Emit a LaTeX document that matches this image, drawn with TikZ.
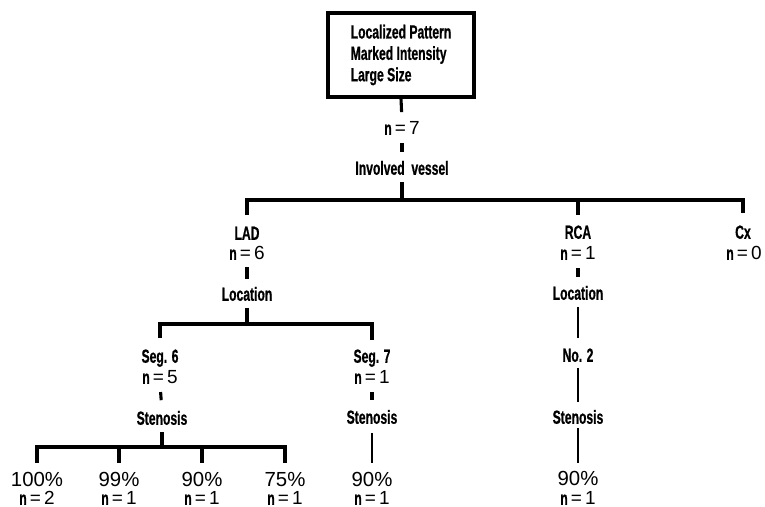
\documentclass[tikz,border=0pt]{standalone}
\usepackage{fontspec}
\setmainfont{Liberation Sans}[FakeStretch=0.64, BoldFeatures={FakeBold=0.7}]
\newfontfamily\numfont{Liberation Sans}
\newcommand{\nval}[1]{{\bfseries n}\,{\numfont\mdseries =\,#1}}

\begin{document}
\begin{tikzpicture}[x=0.025cm,y=-0.025cm]
	\tikzstyle{every node} = [inner sep=0pt, text height=9.6pt, text depth=0pt, font=\fontsize{13.5}{15}\selectfont\bfseries]
	\tikzstyle{pct} = [font=\fontsize{14.5}{16}\selectfont\numfont, text height=10.2pt]
	\tikzstyle{topbox} = [draw, line width=2.2pt, minimum width=3.65cm, minimum height=2.1cm, align=left, text height=, text depth=, font=\fontsize{13.5}{15.2}\selectfont\bfseries]
	\tikzstyle{link} = [line width=2.2pt]
	\tikzstyle{thin} = [line width=1.6pt]
	\useasboundingbox (0,0) rectangle (765,507);
	% top of the tree
	\node[topbox] (box) at (401,55) {Localized Pattern\\Marked Intensity\\Large Size};
	\node (n7) at (402,128) {\nval{7}};
	\node (inv) at (402,168) {Involved\ \ vessel};
	\coordinate (j1) at (402,200);
	% vessels
	\node (lad) at (247,233) {LAD};
	\node (ladn) at (247,253) {\nval{6}};
	\node (ladloc) at (247,294) {Location};
	\node (rca) at (578,232) {RCA};
	\node (rcan) at (578,253) {\nval{1}};
	\node (rcaloc) at (578,293) {Location};
	\node (cx) at (743,232) {Cx};
	\node (cxn) at (744,253) {\nval{0}};
	\coordinate (j2) at (247,324);
	% LAD segments
	\node (seg6) at (160,356) {Seg. 6};
	\node (seg6n) at (160,377) {\nval{5}};
	\node (sten6) at (162,418) {Stenosis};
	\node (seg7) at (372,356) {Seg. 7};
	\node (seg7n) at (372,377) {\nval{1}};
	\node (sten7) at (372,417) {Stenosis};
	\coordinate (j3) at (162,447);
	\node[pct] (p100) at (37,479) {100\%};
	\node (p100n) at (37,498) {\nval{2}};
	\node[pct] (p99) at (119,479) {99\%};
	\node (p99n) at (119,498) {\nval{1}};
	\node[pct] (p90a) at (202,479) {90\%};
	\node (p90an) at (202,498) {\nval{1}};
	\node[pct] (p75) at (285,479) {75\%};
	\node (p75n) at (285,498) {\nval{1}};
	\node[pct] (p90b) at (372,479) {90\%};
	\node (p90bn) at (372,498) {\nval{1}};
	% RCA branch
	\node (no2) at (578,355) {No. 2};
	\node (sten8) at (578,417) {Stenosis};
	\node[pct] (p90c) at (578,478) {90\%};
	\node (p90cn) at (578,498) {\nval{1}};
	% connectors
	\draw[link, shorten >=0.22cm] (box.south) -- (n7.north);
	\draw[link, shorten <=0.2cm, shorten >=0.22cm] (n7.south) -- (inv.north);
	\draw[link, shorten <=0.18cm] (inv.south) -- (j1);
	\draw[link, shorten <=0.27cm, shorten >=0.3cm] (lad.north) |- (j1) -| (cx.north);
	\draw[link, shorten <=0.26cm] (rca.north) -- (rca.north |- j1);
	\draw[link, shorten <=0.18cm, shorten >=0.2cm] (ladn.south) -- (ladloc.north);
	\draw[link, shorten <=0.18cm] (ladloc.south) -- (j2);
	\draw[link, shorten <=0.27cm, shorten >=0.22cm] (seg6.north) |- (j2) -| (seg7.north);
	\draw[link, shorten <=0.2cm, shorten >=0.27cm] (seg6n.south) -- (sten6.north);
	\draw[link, shorten <=0.18cm] (sten6.south) -- (j3);
	\draw[link, shorten <=0.22cm, shorten >=0.22cm] (p100.north) |- (j3) -| (p75.north);
	\draw[link, shorten <=0.22cm] (p99.north) -- (p99.north |- j3);
	\draw[link, shorten <=0.22cm] (p90a.north) -- (p90a.north |- j3);
	\draw[link, shorten <=0.2cm, shorten >=0.25cm] (seg7n.south) -- (sten7.north);
	\draw[thin, shorten <=0.22cm, shorten >=0.22cm] (sten7.south) -- (p90b.north);
	\draw[link, shorten <=0.2cm, shorten >=0.22cm] (rcan.south) -- (rcaloc.north);
	\draw[thin, shorten <=0.18cm, shorten >=0.24cm] (rcaloc.south) -- (no2.north);
	\draw[thin, shorten <=0.16cm, shorten >=0.2cm] (no2.south) -- (sten8.north);
	\draw[thin, shorten <=0.11cm, shorten >=0.2cm] (sten8.south) -- (p90c.north);
\end{tikzpicture}
\end{document}
